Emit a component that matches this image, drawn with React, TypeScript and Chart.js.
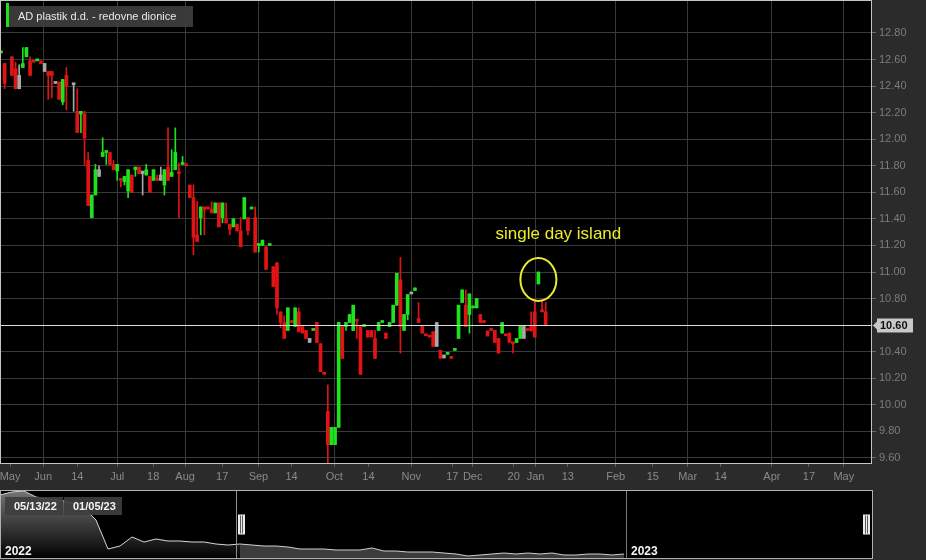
import React, { useEffect, useRef } from 'react';
import { Chart, registerables } from 'chart.js';

Chart.register(...registerables);

const FONT = '"Liberation Sans", Arial, Helvetica, sans-serif';

const SERIES_NAME = 'AD plastik d.d. - redovne dionice';

// One entry per trading slot: [tone, open, high, low, close]; null = no trade.
// tone: g = up (green), r = down (red), n = unchanged (gray)
type Candle = [string, number, number, number, number] | null;
const candles: Candle[] = [
  ['g', 12.65, 12.65, 12.65, 12.65],
  ['r', 12.57, 12.57, 12.38, 12.42],
  null,
  ['r', 12.62, 12.62, 12.48, 12.48],
  ['r', 12.53, 12.58, 12.38, 12.38],
  ['n', 12.48, 12.56, 12.38, 12.38],
  ['g', 12.54, 12.69, 12.54, 12.57],
  ['g', 12.62, 12.69, 12.62, 12.69],
  ['r', 12.59, 12.62, 12.48, 12.48],
  ['r', 12.58, 12.58, 12.58, 12.58],
  ['g', 12.59, 12.59, 12.59, 12.59],
  ['r', 12.59, 12.59, 12.57, 12.57],
  ['n', 12.57, 12.57, 12.51, 12.51],
  ['r', 12.51, 12.51, 12.30, 12.48],
  ['r', 12.51, 12.51, 12.31, 12.48],
  ['n', 12.42, 12.42, 12.42, 12.42],
  ['r', 12.43, 12.43, 12.30, 12.30],
  ['g', 12.28, 12.45, 12.26, 12.45],
  ['r', 12.48, 12.54, 12.22, 12.40],
  null,
  ['n', 12.41, 12.41, 12.21, 12.41],
  ['r', 12.21, 12.38, 12.05, 12.05],
  ['g', 12.19, 12.21, 12.05, 12.21],
  ['r', 12.19, 12.21, 11.80, 12.01],
  ['r', 11.84, 11.90, 11.50, 11.50],
  ['g', 11.41, 11.58, 11.41, 11.58],
  ['g', 11.58, 11.81, 11.58, 11.77],
  ['n', 11.77, 11.80, 11.72, 11.72],
  ['g', 11.87, 12.01, 11.87, 11.90],
  ['g', 11.90, 11.90, 11.81, 11.90],
  ['r', 11.90, 11.90, 11.81, 11.81],
  ['r', 11.81, 11.84, 11.77, 11.77],
  ['g', 11.76, 11.81, 11.69, 11.81],
  ['r', 11.69, 11.69, 11.64, 11.69],
  ['g', 11.68, 11.72, 11.655, 11.72],
  ['g', 11.61, 11.77, 11.56, 11.77],
  ['r', 11.73, 11.73, 11.60, 11.60],
  ['g', 11.77, 11.79, 11.72, 11.79],
  ['r', 11.79, 11.79, 11.74, 11.74],
  ['n', 11.76, 11.76, 11.58, 11.74],
  ['g', 11.73, 11.81, 11.73, 11.77],
  ['r', 11.72, 11.72, 11.60, 11.60],
  ['g', 11.69, 11.77, 11.69, 11.77],
  ['r', 11.69, 11.73, 11.69, 11.69],
  ['n', 11.73, 11.79, 11.69, 11.69],
  ['g', 11.655, 11.77, 11.58, 11.77],
  ['r', 11.79, 12.085, 11.69, 11.69],
  ['g', 11.72, 11.92, 11.72, 11.75],
  ['g', 11.77, 12.085, 11.77, 11.90],
  ['r', 11.74, 11.82, 11.41, 11.74],
  ['g', 11.81, 11.87, 11.81, 11.81],
  ['r', 11.80, 11.80, 11.80, 11.80],
  ['r', 11.655, 11.655, 11.56, 11.56],
  ['r', 11.56, 11.655, 11.13, 11.26],
  ['r', 11.28, 11.53, 11.23, 11.23],
  ['g', 11.41, 11.49, 11.28, 11.49],
  ['r', 11.49, 11.49, 11.28, 11.47],
  ['r', 11.475, 11.475, 11.475, 11.475],
  ['r', 11.475, 11.53, 11.445, 11.445],
  ['g', 11.445, 11.52, 11.445, 11.52],
  ['r', 11.52, 11.52, 11.34, 11.34],
  ['g', 11.41, 11.52, 11.37, 11.52],
  ['r', 11.40, 11.52, 11.37, 11.37],
  ['r', 11.36, 11.36, 11.28, 11.32],
  ['g', 11.34, 11.40, 11.34, 11.40],
  ['r', 11.36, 11.36, 11.31, 11.31],
  ['r', 11.31, 11.41, 11.19, 11.19],
  ['g', 11.40, 11.56, 11.40, 11.56],
  ['r', 11.41, 11.41, 11.28, 11.31],
  ['g', 11.475, 11.475, 11.475, 11.475],
  ['r', 11.41, 11.49, 11.15, 11.15],
  ['g', 11.20, 11.20, 11.15, 11.20],
  ['g', 11.20, 11.24, 11.20, 11.24],
  ['r', 11.19, 11.19, 11.02, 11.02],
  ['g', 11.20, 11.20, 11.20, 11.20],
  ['r', 11.04, 11.04, 10.89, 10.89],
  ['r', 11.07, 11.07, 10.68, 10.73],
  ['r', 10.70, 10.70, 10.58, 10.62],
  ['r', 10.62, 10.67, 10.50, 10.50],
  ['g', 10.56, 10.73, 10.56, 10.73],
  ['r', 10.62, 10.62, 10.62, 10.62],
  ['g', 10.59, 10.73, 10.59, 10.73],
  ['r', 10.70, 10.73, 10.55, 10.55],
  ['r', 10.59, 10.59, 10.54, 10.54],
  ['r', 10.56, 10.56, 10.50, 10.50],
  ['n', 10.50, 10.50, 10.47, 10.47],
  ['g', 10.56, 10.56, 10.56, 10.56],
  ['r', 10.62, 10.62, 10.47, 10.47],
  ['r', 10.46, 10.46, 10.25, 10.25],
  ['r', 10.23, 10.23, 10.23, 10.23],
  ['r', 9.95, 10.15, 9.56, 9.70],
  ['g', 9.70, 9.83, 9.70, 9.83],
  ['g', 9.70, 9.83, 9.70, 9.83],
  ['g', 9.83, 10.62, 9.83, 10.62],
  ['r', 10.59, 10.59, 10.35, 10.35],
  ['g', 10.59, 10.62, 10.56, 10.62],
  ['g', 10.62, 10.68, 10.62, 10.68],
  ['g', 10.56, 10.75, 10.56, 10.75],
  ['r', 10.63, 10.64, 10.50, 10.63],
  ['r', 10.59, 10.59, 10.23, 10.23],
  ['g', 10.59, 10.59, 10.59, 10.59],
  ['r', 10.56, 10.56, 10.51, 10.51],
  ['r', 10.56, 10.56, 10.51, 10.51],
  ['r', 10.50, 10.56, 10.35, 10.35],
  ['g', 10.56, 10.62, 10.56, 10.62],
  ['g', 10.62, 10.62, 10.62, 10.62],
  ['r', 10.54, 10.54, 10.50, 10.50],
  ['g', 10.59, 10.62, 10.59, 10.62],
  ['g', 10.62, 10.75, 10.62, 10.75],
  ['g', 10.75, 10.99, 10.75, 10.99],
  ['r', 10.94, 11.11, 10.39, 10.59],
  ['g', 10.56, 10.68, 10.56, 10.68],
  ['g', 10.68, 10.83, 10.64, 10.83],
  ['n', 10.835, 10.835, 10.835, 10.835],
  ['g', 10.86, 10.88, 10.86, 10.88],
  ['r', 10.65, 10.77, 10.62, 10.62],
  ['r', 10.59, 10.59, 10.54, 10.54],
  ['r', 10.52, 10.52, 10.52, 10.52],
  ['r', 10.51, 10.51, 10.51, 10.51],
  ['r', 10.55, 10.55, 10.44, 10.44],
  ['n', 10.62, 10.62, 10.44, 10.44],
  ['r', 10.41, 10.41, 10.35, 10.35],
  ['n', 10.375, 10.375, 10.353, 10.353],
  ['g', 10.38, 10.38, 10.38, 10.38],
  ['r', 10.35, 10.35, 10.35, 10.35],
  ['g', 10.41, 10.41, 10.41, 10.41],
  ['g', 10.50, 10.75, 10.50, 10.75],
  ['g', 10.77, 10.865, 10.77, 10.865],
  ['r', 10.75, 10.865, 10.59, 10.59],
  ['g', 10.68, 10.835, 10.54, 10.835],
  ['g', 10.73, 10.73, 10.73, 10.73],
  ['g', 10.73, 10.80, 10.73, 10.80],
  ['r', 10.68, 10.68, 10.62, 10.62],
  ['r', 10.62, 10.62, 10.62, 10.62],
  ['r', 10.556, 10.556, 10.518, 10.518],
  ['r', 10.56, 10.56, 10.56, 10.56],
  ['r', 10.56, 10.56, 10.47, 10.47],
  ['r', 10.50, 10.50, 10.39, 10.39],
  ['g', 10.54, 10.62, 10.54, 10.62],
  ['r', 10.52, 10.52, 10.52, 10.52],
  ['r', 10.54, 10.54, 10.47, 10.47],
  ['r', 10.46, 10.46, 10.39, 10.46],
  ['g', 10.47, 10.50, 10.47, 10.50],
  ['g', 10.50, 10.59, 10.50, 10.59],
  ['n', 10.59, 10.59, 10.50, 10.50],
  ['r', 10.56, 10.56, 10.56, 10.56],
  ['r', 10.59, 10.70, 10.556, 10.556],
  ['r', 10.70, 10.79, 10.51, 10.51],
  ['g', 10.91, 11.00, 10.91, 11.00],
  ['r', 10.70, 10.79, 10.70, 10.70],
  ['r', 10.70, 10.77, 10.60, 10.60],
];

// X axis (trading-slot units, extends into the future)
const X_MIN = -0.28;
const X_MAX = 239.6;
const xTickSlots = [2.5, 11.6, 21.0, 32.0, 41.9, 50.7, 60.9, 70.9, 80.0, 91.8, 101.2, 113.0, 124.3, 129.9, 141.2, 147.2, 156.1, 169.3, 179.5, 189.1, 198.2, 212.3, 222.5, 232.1];
const xTickLabels = ['May', 'Jun', '14', 'Jul', '18', 'Aug', '17', 'Sep', '14', 'Oct', '14', 'Nov', '17', 'Dec', '20', 'Jan', '13', 'Feb', '15', 'Mar', '14', 'Apr', '17', 'May'];
const monthGridSlots = [11.6, 32.0, 50.7, 70.9, 91.8, 113.0, 129.9, 147.2, 169.3, 189.1, 212.3, 232.1];

// Y axis (price)
const Y_MIN = 9.562;
const Y_MAX = 13.048;
const yTickValues = [9.6, 9.8, 10.0, 10.2, 10.4, 10.6, 10.8, 11.0, 11.2, 11.4, 11.6, 11.8, 12.0, 12.2, 12.4, 12.6, 12.8];

// Annotation
const islandSlot = 148;
const annotationText = 'single day island';

// Navigator: weekly closes from the start of 2022
const navWeekly = [25.0, 25.75, 26.0, 24.5, 24.0, 23.75, 23.0, 21.75, 18.75, 11.5, 12.25, 14.5, 13.25, 14.0, 13.5, 13.5, 13.25, 13.25, 12.75, 12.5, 12.75, 12.5, 12.25, 12.25, 12.0, 11.5, 11.5, 11.5, 11.25, 11.25, 11.25, 11.75, 11.0, 11.0, 10.75, 10.75, 10.75, 10.5, 10.25, 9.75, 10.0, 10.25, 10.5, 10.25, 10.5, 10.25, 10.5, 10.0, 10.0, 10.25, 10.25, 10.0, 10.25];
const NAV_X_MAX = 72.67;
const NAV_Y_MIN = 9.0;
const NAV_Y_MAX = 26.25;
const navSelectionStart = 19.67;
const navSelectionEnd = 72.2;
const navYearStarts = [0, 52.17];
const navYearLabels = ['2022', '2023'];
const navRangeLabels = ['05/13/22', '01/05/23'];

const toneColor: Record<string, string> = { g: '#1fe21f', r: '#e01414', n: '#a8a8a8' };
const GRID = '#3a3a3a';

function mainConfig(): any {
  const bodyData: any[] = [];
  const wickData: any[] = [];
  candles.forEach((c, i) => {
    if (!c) return;
    const [t, o, h, l, cl] = c;
    bodyData.push({ x: i, y: [Math.min(o, cl), Math.max(o, cl)], t });
    wickData.push({ x: i, y: [l, h], t });
  });
  const last = candles[candles.length - 1] as [string, number, number, number, number];
  const lastClose = last[4];

  const decor = {
    id: 'mainDecor',
    beforeDraw(chart: any) {
      const { ctx, chartArea: a } = chart;
      ctx.save();
      ctx.fillStyle = '#000';
      ctx.fillRect(a.left, a.top, a.right - a.left, a.bottom - a.top);
      ctx.restore();
    },
    afterDatasetsDraw(chart: any) {
      const { ctx, chartArea: a, scales } = chart;
      const xs = scales.x;
      const ys = scales.y;
      ctx.save();
      // current price line
      const py = Math.round(ys.getPixelForValue(lastClose)) + 0.5;
      ctx.strokeStyle = '#dcdcdc';
      ctx.lineWidth = 1;
      ctx.beginPath();
      ctx.moveTo(a.left, py);
      ctx.lineTo(a.right, py);
      ctx.stroke();
      // island annotation
      const isl = candles[islandSlot] as [string, number, number, number, number];
      const ix = xs.getPixelForValue(islandSlot);
      const iy = ys.getPixelForValue((isl[1] + isl[4]) / 2);
      ctx.strokeStyle = '#ecec2a';
      ctx.lineWidth = 2;
      ctx.beginPath();
      ctx.ellipse(ix, iy + 1.5, 18, 21.5, 0, 0, Math.PI * 2);
      ctx.stroke();
      ctx.fillStyle = '#ecec2a';
      ctx.font = `17px ${FONT}`;
      ctx.textAlign = 'center';
      ctx.textBaseline = 'alphabetic';
      ctx.fillText(annotationText, ix + 20, iy - 39);
      ctx.restore();
    },
    afterDraw(chart: any) {
      const { ctx, chartArea: a, scales } = chart;
      const ys = scales.y;
      ctx.save();
      // plot border
      ctx.strokeStyle = '#c4c4c4';
      ctx.lineWidth = 1;
      ctx.strokeRect(a.left + 0.5, a.top + 0.5, a.right - a.left, a.bottom - a.top);
      // last price box
      const py = Math.round(ys.getPixelForValue(lastClose)) + 0.5;
      const bx = a.right + 6;
      ctx.fillStyle = '#c8c8c8';
      ctx.beginPath();
      ctx.moveTo(a.right + 2, py);
      ctx.lineTo(bx, py - 4);
      ctx.lineTo(bx, py - 7);
      ctx.lineTo(bx + 36, py - 7);
      ctx.lineTo(bx + 36, py + 7);
      ctx.lineTo(bx, py + 7);
      ctx.lineTo(bx, py + 4);
      ctx.closePath();
      ctx.fill();
      ctx.fillStyle = '#111';
      ctx.font = `bold 11px ${FONT}`;
      ctx.textAlign = 'left';
      ctx.textBaseline = 'middle';
      ctx.fillText(lastClose.toFixed(2), bx + 3, py + 0.5);
      // series legend
      ctx.fillStyle = 'rgba(60,60,60,0.95)';
      ctx.fillRect(a.left + 7, a.top + 6, 186, 21);
      ctx.fillStyle = toneColor.g;
      ctx.fillRect(a.left + 6, a.top + 3, 3, 24);
      ctx.fillStyle = '#e8e8e8';
      ctx.font = `11px ${FONT}`;
      ctx.textAlign = 'left';
      ctx.textBaseline = 'middle';
      ctx.fillText(SERIES_NAME, a.left + 18, a.top + 17);
      ctx.restore();
    },
  };

  return {
    type: 'bar',
    data: {
      datasets: [
        {
          data: wickData,
          backgroundColor: (c: any) => toneColor[c.raw?.t] || '#888',
          barThickness: 1,
          grouped: false,
          order: 2,
        },
        {
          data: bodyData,
          backgroundColor: (c: any) => toneColor[c.raw?.t] || '#888',
          barThickness: 3,
          minBarLength: 2,
          grouped: false,
          order: 1,
        },
      ],
    },
    options: {
      responsive: false,
      animation: false,
      layout: { padding: 0 },
      plugins: { legend: { display: false }, tooltip: { enabled: false } },
      scales: {
        x: {
          type: 'linear',
          min: X_MIN,
          max: X_MAX,
          offset: false,
          afterBuildTicks: (axis: any) => {
            axis.ticks = xTickSlots.map((v) => ({ value: v }));
          },
          afterFit: (s: any) => {
            s.height = 27;
            s.paddingLeft = 0;
            s.paddingRight = 0;
            s.paddingTop = 0;
            s.paddingBottom = 0;
          },
          ticks: {
            autoSkip: false,
            maxRotation: 0,
            minRotation: 0,
            color: '#8a8a8a',
            font: { family: FONT, size: 11 },
            padding: 3,
            callback: (_v: any, i: number) => xTickLabels[i],
          },
          grid: {
            offset: false,
            color: (c: any) => (c.tick && monthGridSlots.includes(c.tick.value) ? GRID : 'rgba(0,0,0,0)'),
            tickColor: '#5c5c5c',
            tickLength: 4,
          },
          border: { display: false },
        },
        y: {
          type: 'linear',
          position: 'right',
          min: Y_MIN,
          max: Y_MAX,
          afterBuildTicks: (axis: any) => {
            axis.ticks = yTickValues.map((v) => ({ value: v }));
          },
          afterFit: (s: any) => {
            s.width = 55;
            s.paddingLeft = 0;
            s.paddingRight = 0;
            s.paddingTop = 0;
            s.paddingBottom = 0;
          },
          ticks: {
            color: '#7c7c7c',
            font: { family: FONT, size: 11 },
            padding: 3,
            callback: (v: any) => Number(v).toFixed(2),
          },
          grid: { offset: false, color: GRID, tickColor: '#6a6a6a', tickLength: 5 },
          border: { display: false },
        },
      },
    },
    plugins: [decor],
  };
}

function navConfig(): any {
  const split = Math.ceil(navSelectionStart);
  const left = navWeekly.slice(0, split + 1).map((v, i) => ({ x: i, y: v }));
  const right = navWeekly.slice(split).map((v, i) => ({ x: i + split, y: v }));

  const decor = {
    id: 'navDecor',
    beforeDraw(chart: any) {
      const { ctx, chartArea: a } = chart;
      ctx.save();
      ctx.fillStyle = '#000';
      ctx.fillRect(a.left, a.top, a.right - a.left, a.bottom - a.top);
      ctx.restore();
    },
    afterDraw(chart: any) {
      const { ctx, chartArea: a, scales } = chart;
      const xs = scales.x;
      ctx.save();
      // year boundary line(s)
      ctx.strokeStyle = '#7a7a7a';
      ctx.lineWidth = 1;
      navYearStarts.forEach((w, i) => {
        if (i === 0) return;
        const x = Math.round(xs.getPixelForValue(w)) + 0.5;
        ctx.beginPath();
        ctx.moveTo(x, a.top);
        ctx.lineTo(x, a.bottom);
        ctx.stroke();
      });
      // selection start line
      const sx = Math.round(xs.getPixelForValue(navSelectionStart)) + 0.5;
      ctx.strokeStyle = '#8e8e8e';
      ctx.beginPath();
      ctx.moveTo(sx, a.top);
      ctx.lineTo(sx, a.bottom);
      ctx.stroke();
      // handles
      const midY = (a.top + a.bottom) / 2;
      const drawHandle = (hx: number) => {
        ctx.fillStyle = '#ececec';
        ctx.fillRect(hx, midY - 10, 7, 20);
        ctx.fillStyle = '#5a5a5a';
        ctx.fillRect(hx + 2, midY - 9, 1, 18);
        ctx.fillRect(hx + 4, midY - 9, 1, 18);
      };
      drawHandle(sx + 1.5);
      drawHandle(Math.round(xs.getPixelForValue(navSelectionEnd)) - 3);
      // border
      ctx.strokeStyle = '#b0b0b0';
      ctx.strokeRect(a.left + 0.5, a.top + 0.5, a.right - a.left, a.bottom - a.top - 1);
      // year labels
      ctx.fillStyle = '#f4f4f4';
      ctx.font = `bold 12px ${FONT}`;
      ctx.textAlign = 'left';
      ctx.textBaseline = 'alphabetic';
      navYearStarts.forEach((w, i) => {
        const x = xs.getPixelForValue(w);
        ctx.fillText(navYearLabels[i], x + 5, a.bottom - 4);
      });
      // range labels
      ctx.font = `bold 11px ${FONT}`;
      ctx.textBaseline = 'middle';
      navRangeLabels.forEach((lbl, i) => {
        const bx = a.left + 5 + i * 59;
        ctx.fillStyle = 'rgba(62,62,62,0.92)';
        ctx.fillRect(bx, a.top + 7, 58, 18);
        ctx.fillStyle = '#f4f4f4';
        ctx.fillText(lbl, bx + 9, a.top + 16.5);
      });
      ctx.restore();
    },
  };

  return {
    type: 'line',
    data: {
      datasets: [
        {
          data: left,
          borderColor: '#d6d6d6',
          borderWidth: 1,
          pointRadius: 0,
          tension: 0,
          fill: 'start',
          backgroundColor: (c: any) => {
            const a = c.chart.chartArea;
            if (!a) return 'rgba(60,60,60,1)';
            const g = c.chart.ctx.createLinearGradient(0, a.top, 0, a.bottom);
            g.addColorStop(0, 'rgba(118,118,118,1)');
            g.addColorStop(1, 'rgba(0,0,0,1)');
            return g;
          },
        },
        {
          data: right,
          borderColor: '#cfcfcf',
          borderWidth: 1,
          pointRadius: 0,
          tension: 0,
          fill: 'start',
          backgroundColor: '#3c3c3c',
        },
      ],
    },
    options: {
      responsive: false,
      animation: false,
      layout: { padding: { left: 0, right: 54, top: 2, bottom: 1 } },
      plugins: { legend: { display: false }, tooltip: { enabled: false } },
      scales: {
        x: { type: 'linear', display: false, min: 0, max: NAV_X_MAX },
        y: { display: false, min: NAV_Y_MIN, max: NAV_Y_MAX },
      },
    },
    plugins: [decor],
  };
}

export default function App() {
  const mainRef = useRef<HTMLCanvasElement>(null);
  const navRef = useRef<HTMLCanvasElement>(null);
  useEffect(() => {
    const main = new Chart(mainRef.current as HTMLCanvasElement, mainConfig());
    const nav = new Chart(navRef.current as HTMLCanvasElement, navConfig());
    return () => {
      main.destroy();
      nav.destroy();
    };
  }, []);
  return (
    <div style={{ position: 'fixed', left: 0, top: 0, width: 926, height: 560, background: '#2b2b2b', overflow: 'hidden' }}>
      <canvas ref={mainRef} width={926} height={490} style={{ position: 'absolute', left: 0, top: 0, width: 926, height: 490 }} />
      <canvas ref={navRef} width={926} height={72} style={{ position: 'absolute', left: 0, top: 488, width: 926, height: 72 }} />
    </div>
  );
}
